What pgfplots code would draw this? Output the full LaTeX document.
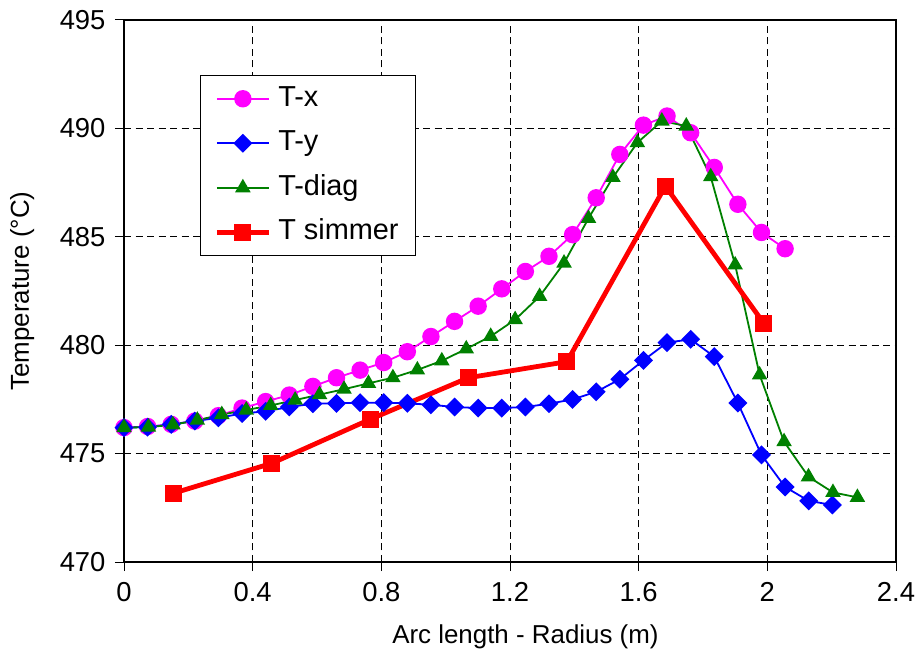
\documentclass[border=0pt]{standalone}
\usepackage{pgfplots}
\usepackage{pgfplotstable}
\pgfplotsset{compat=1.18}
\usepackage{fontspec}
\setmainfont{Liberation Sans}
\definecolor{cmag}{RGB}{255,0,255}
\definecolor{cblue}{RGB}{0,0,255}
\definecolor{cgreen}{RGB}{0,128,0}
\definecolor{cred}{RGB}{255,0,0}

\pgfplotstableread{
x y
0 476.2
0.0734 476.25
0.1468 476.35
0.2202 476.5
0.2936 476.75
0.367 477.1
0.4404 477.4
0.5138 477.7
0.5872 478.1
0.6606 478.5
0.734 478.85
0.8074 479.2
0.8808 479.7
0.9542 480.4
1.0276 481.1
1.101 481.8
1.1744 482.6
1.2478 483.4
1.3212 484.1
1.3946 485.1
1.468 486.8
1.5414 488.8
1.6148 490.15
1.6882 490.57
1.7616 489.8
1.835 488.2
1.9084 486.5
1.9818 485.2
2.0552 484.45
}\Tx

\pgfplotstableread{
x y
0 476.2
0.0734 476.22
0.1468 476.35
0.2202 476.5
0.2936 476.65
0.367 476.85
0.4404 476.95
0.5138 477.15
0.5872 477.3
0.6606 477.32
0.734 477.35
0.8074 477.35
0.8808 477.32
0.9542 477.25
1.0276 477.15
1.101 477.1
1.1744 477.1
1.2478 477.15
1.3212 477.3
1.3946 477.5
1.468 477.85
1.5414 478.43
1.6148 479.3
1.6882 480.12
1.7616 480.27
1.835 479.47
1.9084 477.33
1.9818 474.94
2.0552 473.46
2.1286 472.82
2.202 472.63
}\Ty

\pgfplotstableread{
x y
0 476.2
0.076 476.22
0.152 476.33
0.228 476.54
0.304 476.8
0.38 477.01
0.456 477.22
0.532 477.47
0.608 477.72
0.684 477.97
0.76 478.24
0.836 478.5
0.912 478.86
0.988 479.28
1.064 479.83
1.14 480.41
1.216 481.18
1.292 482.25
1.368 483.79
1.444 485.85
1.52 487.74
1.596 489.34
1.672 490.34
1.748 490.11
1.824 487.77
1.9 483.7
1.976 478.63
2.052 475.55
2.128 473.93
2.204 473.21
2.28 472.98
}\Tdiag

\pgfplotstableread{
x y
0.153 473.17
0.459 474.55
0.765 476.58
1.071 478.5
1.377 479.24
1.683 487.34
1.989 481.01
}\Tsim

\begin{document}
\begin{tikzpicture}
\useasboundingbox (0,0) rectangle (919bp,663bp);
\begin{axis}[
  at={(124bp,101bp)}, anchor=south west,
  scale only axis, width=772bp, height=542bp,
  xmin=0, xmax=2.4, ymin=470, ymax=495,
  xtick={0,0.4,...,2.4}, ytick={470,475,...,495},
  xticklabels={0,0.4,0.8,1.2,1.6,2,2.4},
  tick align=outside, major tick length=9bp,
  xtick pos=bottom, ytick pos=left,
  axis line style={line width=1.6bp, black},
  every tick/.style={black, line width=1bp},
  grid=major,
  major grid style={black, line width=0.9bp, dash pattern=on 7bp off 4.5bp},
  /pgf/number format/assume math mode=true,
  tick label style={font=\fontsize{27.5}{30}\selectfont},
  yticklabel style={xshift=-6bp},
  xticklabel style={yshift=-8bp},
  label style={font=\fontsize{26}{30}\selectfont},
  xlabel={Arc length - Radius (m)},
  ylabel={Temperature (°C)},
  xlabel style={at={(axis description cs:0.52,-0.1384)}, anchor=center},
  ylabel style={at={(axis description cs:-0.132,0.5)}, anchor=center},
  legend style={at={(rel axis cs:0.0984,0.8985)}, anchor=north west,
    draw=black, line width=1bp, font=\fontsize{29}{30}\selectfont,
    inner xsep=14bp, inner ysep=7bp, row sep=12bp,
    nodes={text height=20.5bp, text depth=6bp, inner sep=3bp},
    /tikz/every odd column/.append style={column sep=4bp}},
  legend cell align=left,
  legend image code/.code={
    \draw[#1, mark repeat=2, mark phase=2] plot coordinates {(0bp,0bp) (26bp,0bp) (52bp,0bp)};
  },
]
\addplot[cmag, line width=1.8bp, mark=*, mark size=7.8bp, mark options={solid}] table {\Tx};
\addlegendentry{T-x}
\addplot[cblue, line width=1.8bp, mark=square*, mark size=5.8bp, mark options={solid, rotate=45}] table {\Ty};
\addlegendentry{T-y}
\addplot[cgreen, line width=1.8bp, mark=triangle*, mark size=7.2bp, mark options={solid}] table {\Tdiag};
\addlegendentry{T-diag}
\addplot[cred, line width=4.8bp, mark=square*, mark size=8bp, mark options={solid, line width=1bp}] table {\Tsim};
\addlegendentry{T simmer}
\end{axis}
\end{tikzpicture}
\end{document}
